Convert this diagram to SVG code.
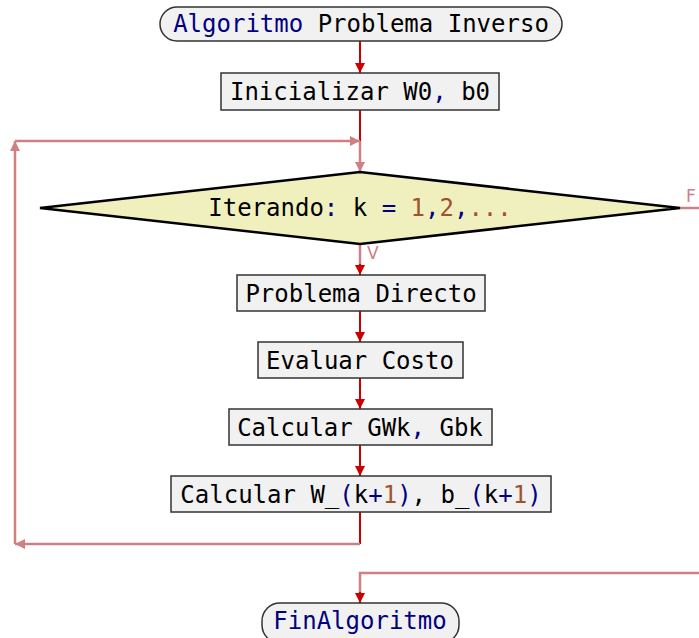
<svg xmlns="http://www.w3.org/2000/svg" width="699" height="638" viewBox="0 0 699 638">
<style>
.t{font-family:"DejaVu Sans Mono","Liberation Mono",monospace;font-size:24px;fill:#000;text-anchor:middle}
.k{fill:#000080}
.n{fill:#a0522d}
.box{fill:#f1f1f1;stroke:#333;stroke-width:1.5}
.term{fill:#f1f1f1;stroke:#333;stroke-width:1.5}
.dec{fill:#f0f0be;stroke:#000;stroke-width:2.5}
.r{stroke:#cc0000;stroke-width:2;fill:none}
.p{stroke:#d08080;stroke-width:2.5;fill:none}
.lbl{font-family:"DejaVu Sans","Liberation Sans",sans-serif;font-size:17px;fill:#d08080}
</style>
<defs>
<marker id="ar" viewBox="0 0 10 10" refX="10" refY="5" markerWidth="10" markerHeight="10" markerUnits="userSpaceOnUse" orient="auto"><path d="M0,0L10,5L0,10z" fill="#cc0000"/></marker>
<marker id="ap" viewBox="0 0 10 10" refX="10" refY="5" markerWidth="10" markerHeight="10" markerUnits="userSpaceOnUse" orient="auto"><path d="M0,0L10,5L0,10z" fill="#d08080"/></marker>
</defs>
<g id="connectors">
<line class="r" x1="360" y1="41" x2="360" y2="73" marker-end="url(#ar)"/>
<line class="r" x1="360" y1="110" x2="360" y2="141"/>
<line class="p" x1="360" y1="141" x2="360" y2="172" marker-end="url(#ap)"/>
<polyline class="p" points="15,544 15,141"  marker-end="url(#ap)"/>
<polyline class="p" points="15,141 360,141" marker-end="url(#ap)"/>
<line class="p" x1="360" y1="244" x2="360" y2="266"/>
<line class="r" x1="360" y1="264" x2="360" y2="275" marker-end="url(#ar)"/>
<line class="r" x1="360" y1="311" x2="360" y2="342" marker-end="url(#ar)"/>
<line class="r" x1="360" y1="378" x2="360" y2="409" marker-end="url(#ar)"/>
<line class="r" x1="360" y1="445" x2="360" y2="476" marker-end="url(#ar)"/>
<line class="r" x1="360" y1="512" x2="360" y2="544"/>
<polyline class="p" points="360,544 15,544" marker-end="url(#ap)"/>
<line class="p" x1="680" y1="208" x2="699" y2="208"/>
<polyline class="p" points="699,573 360,573 360,594"/>
<line class="r" x1="360" y1="592" x2="360" y2="603" marker-end="url(#ar)"/>
<text class="lbl" x="367" y="259">V</text>
<text class="lbl" x="686" y="202">F</text>
</g>
<g id="start">
<rect class="term" x="160" y="7" width="402" height="34" rx="17"/>
<text class="t" x="361" y="32"><tspan class="k">Algoritmo</tspan> Problema Inverso</text>
</g>
<g id="init">
<rect class="box" x="221" y="73" width="278" height="37"/>
<text class="t" x="360" y="100">Inicializar W0<tspan class="k">,</tspan> b0</text>
</g>
<g id="loop">
<polygon class="dec" points="40,208 360,172 680,208 360,244"/>
<text class="t" x="360" y="216">Iterando<tspan class="k">:</tspan> k <tspan class="k">=</tspan> <tspan class="n">1</tspan><tspan class="k">,</tspan><tspan class="n">2</tspan><tspan class="k">,</tspan><tspan class="n">...</tspan></text>
</g>
<g id="directo">
<rect class="box" x="237" y="275" width="248" height="36"/>
<text class="t" x="361" y="302">Problema Directo</text>
</g>
<g id="costo">
<rect class="box" x="258" y="342" width="205" height="36"/>
<text class="t" x="360" y="369">Evaluar Costo</text>
</g>
<g id="grad">
<rect class="box" x="229" y="409" width="263" height="36"/>
<text class="t" x="360" y="436">Calcular GWk<tspan class="k">,</tspan> Gbk</text>
</g>
<g id="update">
<rect class="box" x="171" y="476" width="380" height="36"/>
<text class="t" x="361" y="503">Calcular W_<tspan class="k">(</tspan>k<tspan class="k">+</tspan><tspan class="n">1</tspan><tspan class="k">)</tspan>, b_<tspan class="k">(</tspan>k<tspan class="k">+</tspan><tspan class="n">1</tspan><tspan class="k">)</tspan></text>
</g>
<g id="end">
<rect class="term" x="262" y="603" width="197" height="40" rx="18"/>
<text class="t k" x="360" y="629">FinAlgoritmo</text>
</g>
</svg>
